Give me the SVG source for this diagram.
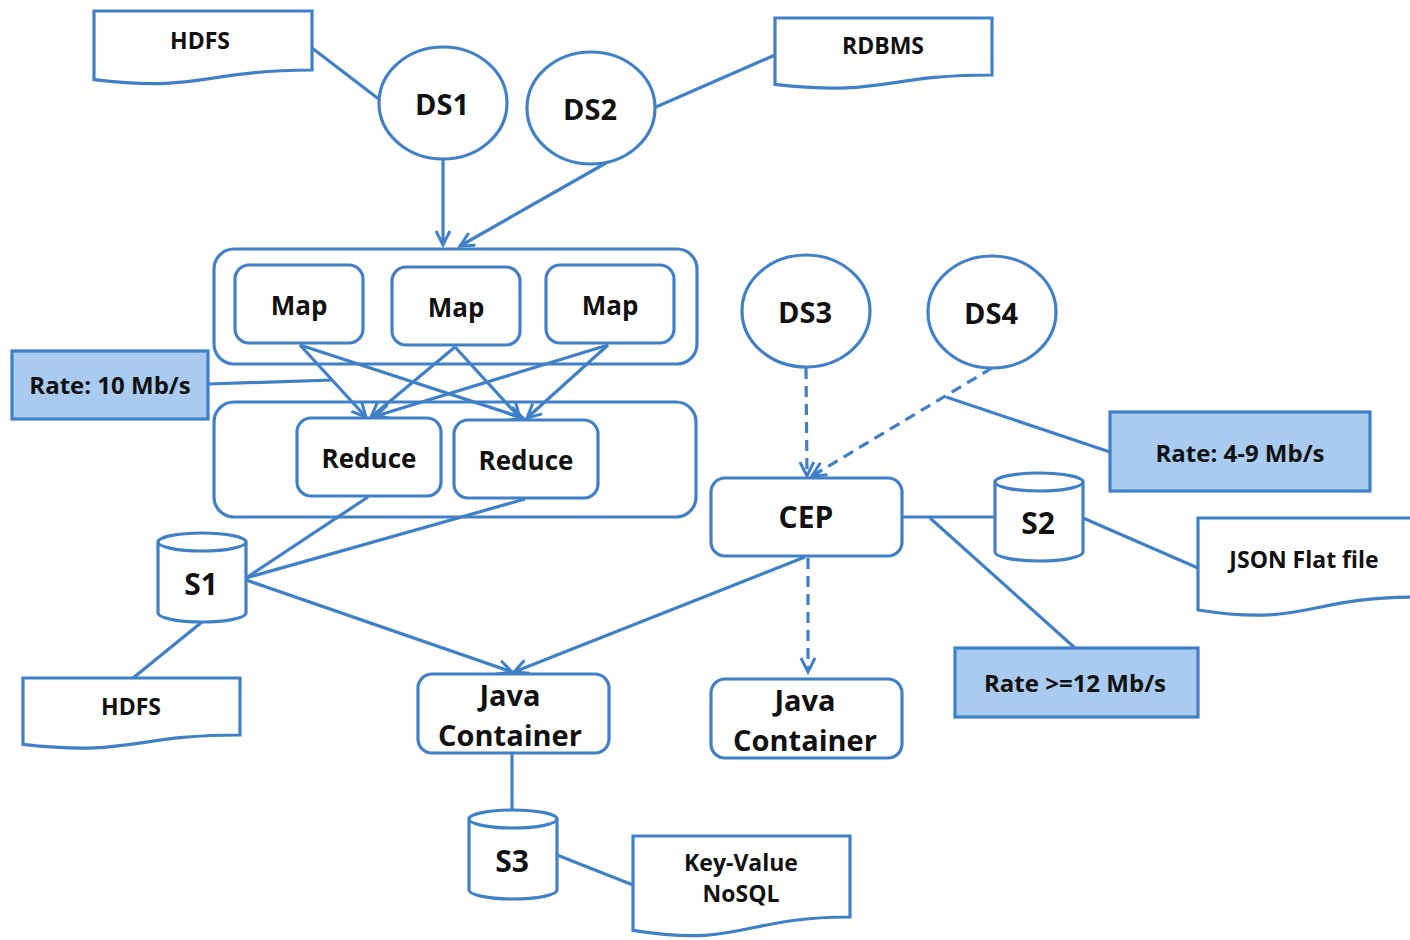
<svg xmlns="http://www.w3.org/2000/svg" width="1410" height="940" viewBox="0 0 1410 940">
<style>
.s{fill:#fff;stroke:#4080C6;stroke-width:3.2}
.r{fill:#A8CBEF;stroke:#4080C6;stroke-width:3.2}
.c{fill:none;stroke:#4080C6;stroke-width:3.2}
.d{fill:none;stroke:#4080C6;stroke-width:3.2;stroke-dasharray:11,7}
text{font-family:"Open Sans","Liberation Sans",sans-serif;font-weight:bold;fill:#111;text-anchor:middle;dominant-baseline:central}
.t20{font-size:23px}.t22{font-size:24px}.t26{font-size:26px}.t29{font-size:29px}.t28{font-size:29px}.t30{font-size:30px}
</style>
<defs>
<marker id="a" markerUnits="userSpaceOnUse" markerWidth="20" markerHeight="20" refX="15" refY="8" orient="auto">
<path d="M1,1 L15,8 L1,15" fill="none" stroke="#4080C6" stroke-width="3"/>
</marker>
</defs>
<rect width="1410" height="940" fill="#fff"/>
<g id="connectors">
<line class="c" x1="312" y1="48" x2="380" y2="100"/>
<line class="c" x1="775" y1="55" x2="656" y2="107"/>
<line class="c" x1="443" y1="159" x2="443" y2="245" marker-end="url(#a)"/>
<line class="c" x1="606" y1="163" x2="460" y2="246" marker-end="url(#a)"/>
<line class="c" x1="300" y1="345" x2="366" y2="417" marker-end="url(#a)"/>
<line class="c" x1="300" y1="345" x2="523" y2="418" marker-end="url(#a)"/>
<line class="c" x1="455" y1="347" x2="371" y2="417" marker-end="url(#a)"/>
<line class="c" x1="455" y1="347" x2="520" y2="418" marker-end="url(#a)"/>
<line class="c" x1="608" y1="345" x2="376" y2="416" marker-end="url(#a)"/>
<line class="c" x1="608" y1="345" x2="527" y2="418" marker-end="url(#a)"/>
<line class="c" x1="208" y1="384" x2="333" y2="380"/>
<line class="c" x1="368" y1="497" x2="246" y2="578"/>
<line class="c" x1="525" y1="499" x2="246" y2="578"/>
<line class="c" x1="246" y1="580" x2="512" y2="672" marker-end="url(#a)"/>
<line class="c" x1="805" y1="557" x2="514" y2="672" marker-end="url(#a)"/>
<line class="c" x1="202" y1="622" x2="133" y2="678"/>
<line class="c" x1="512" y1="753" x2="512" y2="812"/>
<line class="c" x1="557" y1="855" x2="633" y2="885"/>
<line class="d" x1="806" y1="368" x2="807" y2="476" marker-end="url(#a)"/>
<line class="d" x1="992" y1="368" x2="812" y2="476" marker-end="url(#a)"/>
<line class="c" x1="946" y1="397" x2="1110" y2="452"/>
<line class="c" x1="902" y1="517" x2="995" y2="517"/>
<line class="c" x1="1083" y1="518" x2="1198" y2="568"/>
<line class="c" x1="930" y1="518" x2="1075" y2="648"/>
<line class="d" x1="808" y1="558" x2="808" y2="672" marker-end="url(#a)"/>
</g>
<g id="hdfs1"><path class="s" d="M94,11 H312 V70 C203,70 203,92.4 94,79.6 Z"/><text class="t20" x="200" y="40">HDFS</text></g>
<g id="rdbms"><path class="s" d="M775,18 H992 V75 C883.5,75 883.5,96.6 775,84.3 Z"/><text class="t20" x="883" y="45">RDBMS</text></g>
<g id="ds1"><ellipse class="s" cx="443" cy="103" rx="64" ry="56"/><text class="t28" x="442" y="103">DS1</text></g>
<g id="ds2"><ellipse class="s" cx="591" cy="108" rx="64" ry="56"/><text class="t28" x="590" y="108">DS2</text></g>
<g id="mapgroup"><rect class="s" x="214" y="249" width="483" height="115" rx="20" style="fill:none"/></g>
<g id="map1"><rect class="s" x="235" y="265" width="128" height="78" rx="14"/><text class="t26" x="299" y="305">Map</text></g>
<g id="map2"><rect class="s" x="392" y="267" width="128" height="78" rx="14"/><text class="t26" x="456" y="307">Map</text></g>
<g id="map3"><rect class="s" x="546" y="265" width="128" height="78" rx="14"/><text class="t26" x="610" y="305">Map</text></g>
<g id="reducegroup"><rect class="s" x="214" y="402" width="482" height="115" rx="20" style="fill:none"/></g>
<g id="reduce1"><rect class="s" x="297" y="418" width="144" height="78" rx="14"/><text class="t26" x="369" y="458">Reduce</text></g>
<g id="reduce2"><rect class="s" x="454" y="420" width="144" height="78" rx="14"/><text class="t26" x="526" y="460">Reduce</text></g>
<g id="rate10"><rect class="r" x="12" y="351" width="196" height="68"/><text class="t22" x="110" y="384">Rate: 10 Mb/s</text></g>
<g id="s1"><path class="s" d="M158,542 A44,9 0 0 1 246,542 V613 A44,9 0 0 1 158,613 Z"/><path class="c" d="M158,542 A44,9 0 0 0 246,542"/><text class="t30" x="201" y="583">S1</text></g>
<g id="hdfs2"><path class="s" d="M23,678 H240 V735 C131.5,735 131.5,756.6 23,744.3 Z"/><text class="t20" x="131" y="706">HDFS</text></g>
<g id="java1"><rect class="s" x="418" y="674" width="191" height="79" rx="14"/><text class="t29" x="510" y="694">Java</text><text class="t29" x="510" y="734">Container</text></g>
<g id="s3"><path class="s" d="M469,819 A44,9 0 0 1 557,819 V890 A44,9 0 0 1 469,890 Z"/><path class="c" d="M469,819 A44,9 0 0 0 557,819"/><text class="t30" x="512" y="860">S3</text></g>
<g id="kv"><path class="s" d="M633,836 H850 V917 C741.5,917 741.5,947.8 633,930.3 Z"/><text class="t20" x="741" y="862">Key-Value</text><text class="t20" x="741" y="893">NoSQL</text></g>
<g id="ds3"><ellipse class="s" cx="806" cy="311" rx="64" ry="56"/><text class="t28" x="805" y="311">DS3</text></g>
<g id="ds4"><ellipse class="s" cx="992" cy="312" rx="64" ry="56"/><text class="t28" x="991" y="312">DS4</text></g>
<g id="rate49"><rect class="r" x="1110" y="412" width="260" height="79"/><text class="t22" x="1240" y="452">Rate: 4-9 Mb/s</text></g>
<g id="cep"><rect class="s" x="711" y="478" width="191" height="78" rx="14"/><text class="t30" x="806" y="516">CEP</text></g>
<g id="s2"><path class="s" d="M995,482 A44,9 0 0 1 1083,482 V552 A44,9 0 0 1 995,552 Z"/><path class="c" d="M995,482 A44,9 0 0 0 1083,482"/><text class="t30" x="1038" y="522">S2</text></g>
<g id="json"><path class="s" d="M1198,518 H1416 V597 C1307,597 1307,627 1198,610 Z"/><text class="t20" x="1304" y="559">JSON Flat file</text></g>
<g id="rate12"><rect class="r" x="955" y="648" width="243" height="69"/><text class="t22" x="1075" y="682">Rate &gt;=12 Mb/s</text></g>
<g id="java2"><rect class="s" x="711" y="679" width="191" height="79" rx="14"/><text class="t29" x="805" y="699">Java</text><text class="t29" x="805" y="739">Container</text></g>
</svg>
